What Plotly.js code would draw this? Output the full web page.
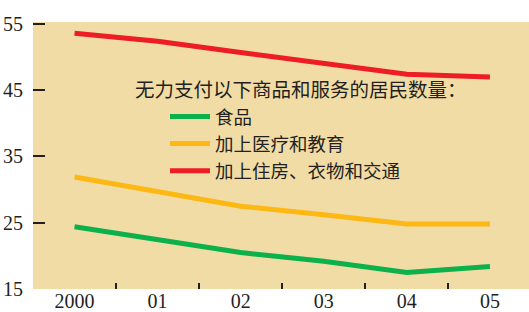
<!DOCTYPE html>
<html>
<head>
<meta charset="utf-8">
<script src="https://cdn.plot.ly/plotly-3.0.1.min.js"></script>
<style>html,body{margin:0;padding:0;background:#fff;}#chart{width:529px;height:312px;}</style>
</head>
<body>
<div id="chart"></div>
<script>
const years = ['2000', '01', '02', '03', '04', '05'];
const food = [24.4, 22.4, 20.5, 19.2, 17.5, 18.4];
const healthEdu = [31.9, 29.7, 27.5, 26.2, 24.8, 24.8];
const housingEtc = [53.6, 52.4, 50.7, 49.1, 47.4, 47.0];
const seriesNames = ['食品', '加上医疗和教育', '加上住房、衣物和交通'];
const legendTitle = '无力支付以下商品和服务的居民数量：';
const yTicks = [15, 25, 35, 45, 55];

const cjk = '"Noto Sans CJK SC", "Noto Sans CJK JP", sans-serif';
const serif = '"Liberation Serif", "DejaVu Serif", serif';

const mk = (y, name, color) => ({
  x: years, y: y, name: name, type: 'scatter', mode: 'lines',
  line: {color: color, width: 5}
});

const data = [
  mk(food, seriesNames[0], '#0cb14b'),
  mk(healthEdu, seriesNames[1], '#fdb813'),
  mk(housingEtc, seriesNames[2], '#ee1c25')
];

const layout = {
  width: 529, height: 312,
  margin: {l: 33, r: 0, t: 22, b: 23, pad: 0},
  paper_bgcolor: '#ffffff',
  plot_bgcolor: '#f2dca6',
  showlegend: true,
  legend: {
    x: (165 - 33) / 496, xanchor: 'left',
    y: (289 - 98) / 267, yanchor: 'top',
    bgcolor: 'rgba(0,0,0,0)',
    font: {family: cjk, size: 18.5, color: '#231f20'},
    itemwidth: 40,
    traceorder: 'normal'
  },
  annotations: [{
    text: legendTitle, showarrow: false,
    xref: 'paper', yref: 'paper',
    x: (133 - 33) / 496, xanchor: 'left',
    y: (289 - 89) / 267, yanchor: 'middle',
    font: {family: cjk, size: 19.5, color: '#231f20'}
  }],
  xaxis: {
    type: 'category',
    range: [-0.5, 5.47],
    tickson: 'boundaries',
    ticks: 'inside', ticklen: 6, tickwidth: 2, tickcolor: '#231f20',
    showgrid: false, zeroline: false, showline: false,
    tickfont: {family: serif, size: 20, color: '#231f20'},
    ticklabelstandoff: -2,
    fixedrange: true
  },
  yaxis: {
    range: [15, 55.3],
    tickvals: yTicks,
    ticktext: yTicks.map(String),
    ticks: 'inside', ticklen: 12, tickwidth: 2, tickcolor: '#231f20',
    showgrid: false, zeroline: false, showline: false,
    tickfont: {family: serif, size: 20, color: '#231f20'},
    ticklabelstandoff: 9,
    fixedrange: true
  }
};

Plotly.newPlot('chart', data, layout, {displayModeBar: false, staticPlot: true});
</script>
</body>
</html>
